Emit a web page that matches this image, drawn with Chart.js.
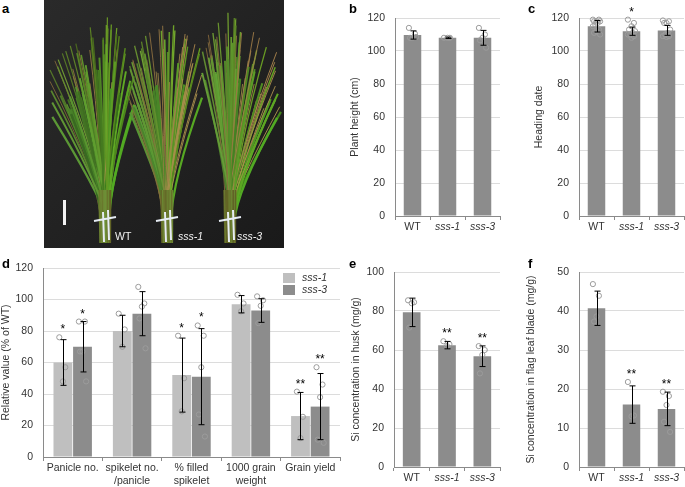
<!DOCTYPE html>
<html>
<head>
<meta charset="utf-8">
<script src="https://cdn.jsdelivr.net/npm/chart.js@4.4.1/dist/chart.umd.min.js"></script>
<style>
body { margin: 0; width: 685px; height: 487px; position: relative; background: #fff; overflow: hidden; font-family: "Liberation Sans", Arial, sans-serif; }
canvas { position: absolute; }
.tag { position: absolute; font-weight: bold; font-size: 13px; color: #000; line-height: 13px; }
</style>
</head>
<body>
<canvas id="photo" width="240" height="248" style="left:44px;top:0"></canvas>
<canvas id="chartB" width="165" height="240" style="left:340px;top:0"></canvas>
<canvas id="chartC" width="160" height="240" style="left:525px;top:0"></canvas>
<canvas id="chartD" width="345" height="237" style="left:0;top:250px"></canvas>
<canvas id="chartE" width="165" height="232" style="left:340px;top:255px"></canvas>
<canvas id="chartF" width="170" height="232" style="left:515px;top:255px"></canvas>
<div class="tag" style="left:2px;top:2px">a</div>
<div class="tag" style="left:349px;top:2px">b</div>
<div class="tag" style="left:528px;top:2px">c</div>
<div class="tag" style="left:2px;top:257px">d</div>
<div class="tag" style="left:349px;top:257px">e</div>
<div class="tag" style="left:528px;top:257px">f</div>
<script>
// genotypes for panels b, c, e, f
const genotypes = ["WT", "sss-1", "sss-3"];

// b: plant height (cm)
const heightMean = [109.7, 108, 108];
const heightSd = [2.5, 0.4, 4.5];
const heightDots = [[114, 110.5, 108, 108, 108.5], [108, 108, 108], [114, 110, 108, 106.5, 102]];

// c: heading date
const headingMean = [115, 112, 112.5];
const headingSd = [3.5, 2.5, 3];
const headingDots = [
    [119, 119, 118, 118, 118, 117, 116, 115, 113, 112, 111, 110],
    [119, 117, 115, 113, 112, 111, 110, 110, 109, 108],
    [118.5, 118, 117, 117, 113, 111, 110, 109, 109, 108.5]
];
const headingStars = ["", "*", ""];

// d: relative yield components (% of WT)
const traits = [["Panicle no."], ["spikelet no.", "/panicle"], ["% filled", "spikelet"], ["1000 grain", "weight"], ["Grain yield"]];
const sss1Mean = [60, 80, 52, 97, 26];
const sss1Sd = [14.5, 10, 23.5, 5.5, 15];
const sss1Dots = [[76, 57, 48], [91, 81, 70], [77, 50, 29], [103, 97.5, 92.5], [41.5, 25.5, 12]];
const sss3Mean = [70, 91, 51, 93, 32];
const sss3Sd = [16, 14, 30.5, 7.5, 21];
const sss3Dots = [[86, 86, 67, 67, 48], [108, 97.5, 95.5, 88, 69], [83.5, 77, 57, 27, 13], [102, 99.5, 96, 85], [57, 46, 38, 11, 9]];
const traitStars = ["*", "", "*", "", "**"];

// e: Si in husk (mg/g)
const huskMean = [79.3, 62.5, 56.8];
const huskSd = [7.3, 1.9, 5.3];
const huskDots = [[85.5, 84.5, 84, 71.5], [64.5, 63, 62], [62, 60, 57.5, 48]];

// f: Si in flag leaf blade (mg/g)
const leafMean = [40.7, 16, 14.9];
const leafSd = [4.4, 4.8, 4.3];
const leafDots = [[46.9, 43.9, 38.6, 37.3], [21.8, 13.2, 13], [19.3, 18.2, 15.9, 11.6, 9]];
const siStars = ["", "**", "**"];

const family = "Liberation Sans";
const textColor = "#333";
const axisGray = "#8a8a8a";
const darkBar = "#8c8c8c";
const lightBar = "#bfbfbf";

const jitter = k => ((k * 5) % 7 - 3) * 1.2;

const errorDots = {
    id: "errorDots",
    afterDatasetsDraw(chart, args, opts) {
        const ctx = chart.ctx;
        const y = chart.scales.y;
        ctx.save();
        chart.data.datasets.forEach((ds, i) => {
            const meta = chart.getDatasetMeta(i);
            meta.data.forEach((bar, j) => {
                const x = bar.x;
                const v = ds.data[j];
                ctx.strokeStyle = "#9c9c9c";
                ctx.lineWidth = 1;
                ds.dots[j].forEach((d, k) => {
                    ctx.beginPath();
                    ctx.arc(x + jitter(k), y.getPixelForValue(d), 2.6, 0, Math.PI * 2);
                    ctx.stroke();
                });
                const top = y.getPixelForValue(v + ds.sd[j]);
                const bot = y.getPixelForValue(v - ds.sd[j]);
                const cx = Math.round(x) + 0.5;
                ctx.strokeStyle = "#000";
                ctx.beginPath();
                ctx.moveTo(cx, top); ctx.lineTo(cx, bot);
                ctx.moveTo(cx - 3, top); ctx.lineTo(cx + 3, top);
                ctx.moveTo(cx - 3, bot); ctx.lineTo(cx + 3, bot);
                ctx.stroke();
                if (ds.stars && ds.stars[j]) {
                    const hi = y.getPixelForValue(Math.max(v + ds.sd[j], ...ds.dots[j]));
                    ctx.fillStyle = "#000";
                    ctx.font = "12px " + family;
                    ctx.textAlign = "center";
                    ctx.textBaseline = "alphabetic";
                    ctx.fillText(ds.stars[j], x, hi - 4);
                }
            });
        });
        if (opts.legend) {
            const area = chart.chartArea;
            chart.data.datasets.forEach((ds, i) => {
                const ty = area.top + 5 + i * 12;
                ctx.fillStyle = ds.backgroundColor;
                ctx.fillRect(area.right - 57, ty, 12, 10);
                ctx.fillStyle = textColor;
                ctx.font = "italic 10.5px " + family;
                ctx.textAlign = "left";
                ctx.textBaseline = "middle";
                ctx.fillText(ds.label, area.right - 38, ty + 5);
            });
        }
        ctx.restore();
    }
};

function italicFor(label) {
    return (typeof label === "string" && label.startsWith("sss")) ? "italic" : "normal";
}

function barChart(id, o) {
    return new Chart(document.getElementById(id), {
        type: "bar",
        data: { labels: o.labels, datasets: o.datasets },
        options: {
            responsive: false,
            animation: false,
            layout: { padding: { top: o.top, right: o.right, left: 0, bottom: 0 } },
            plugins: {
                legend: { display: false },
                tooltip: { enabled: false },
                errorDots: { legend: o.legend || false }
            },
            scales: {
                x: {
                    grid: { display: true, drawOnChartArea: false, offset: true, tickLength: 4, color: axisGray },
                    border: { color: axisGray },
                    ticks: {
                        color: textColor, padding: 1, maxRotation: 0, autoSkip: false,
                        font: c => ({ family: family, size: 10.5, style: italicFor(o.labels[c.index]) })
                    },
                    afterFit: s => { s.height = o.xh; }
                },
                y: {
                    min: 0, max: o.max,
                    ticks: { stepSize: o.step, color: textColor, padding: 10, font: { family: family, size: 10.5 } },
                    grid: { color: "#dcdcdc", drawTicks: false },
                    border: { color: axisGray },
                    title: { display: true, text: o.title, color: textColor, font: { family: family, size: 10.5 }, padding: { top: o.tpad, bottom: 0 } },
                    afterFit: s => { s.width = o.yw; }
                }
            }
        },
        plugins: [errorDots]
    });
}

function single(label, mean, sd, dots, stars) {
    return [{ label: label, data: mean, sd: sd, dots: dots, stars: stars, backgroundColor: darkBar, borderWidth: 0, barPercentage: 1, categoryPercentage: 0.5 }];
}

barChart("chartB", { labels: genotypes, datasets: single("Plant height", heightMean, heightSd, heightDots, null),
    max: 120, step: 20, title: "Plant height (cm)", top: 18, right: 5, yw: 55, xh: 24, tpad: 9 });
barChart("chartC", { labels: genotypes, datasets: single("Heading date", headingMean, headingSd, headingDots, headingStars),
    max: 120, step: 20, title: "Heading date", top: 18, right: 1, yw: 54, xh: 24, tpad: 8 });
barChart("chartE", { labels: genotypes, datasets: single("Si husk", huskMean, huskSd, huskDots, siStars),
    max: 100, step: 20, title: "Si concentration in husk (mg/g)", top: 17, right: 5, yw: 54, xh: 20, tpad: 10 });
barChart("chartF", { labels: genotypes, datasets: single("Si leaf", leafMean, leafSd, leafDots, siStars),
    max: 50, step: 10, title: "Si concentration in flag leaf blade (mg/g)", top: 17, right: 1, yw: 64, xh: 20, tpad: 10 });
barChart("chartD", {
    labels: traits,
    datasets: [
        { label: "sss-1", data: sss1Mean, sd: sss1Sd, dots: sss1Dots, stars: traitStars, backgroundColor: lightBar, borderWidth: 0, barPercentage: 0.96, categoryPercentage: 0.66 },
        { label: "sss-3", data: sss3Mean, sd: sss3Sd, dots: sss3Dots, stars: traitStars, backgroundColor: darkBar, borderWidth: 0, barPercentage: 0.96, categoryPercentage: 0.66 }
    ],
    max: 120, step: 20, title: "Relative value (% of WT)", top: 18, right: 5, yw: 43, xh: 30, tpad: 0, legend: true
});

// panel a: stylised stand-in for the photo of the three plants
function drawPhoto() {
    const g = document.getElementById("photo").getContext("2d");
    const grad = g.createLinearGradient(0, 0, 240, 248);
    grad.addColorStop(0, "#2a2a2a");
    grad.addColorStop(1, "#1a1a1a");
    g.fillStyle = grad;
    g.fillRect(0, 0, 240, 248);
    const h = n => { const s = Math.sin(n * 78.233) * 43758.5453; return s - Math.floor(s); };
    const plants = [
        { cx: 61, left: 6, right: 92, top: 14, brown: 0.12 },
        { cx: 123, left: 84, right: 160, top: 12, brown: 0.4 },
        { cx: 186, left: 158, right: 238, top: 8, brown: 0.35 }
    ];
    plants.forEach((p, pi) => {
        for (let i = 0; i < 80; i++) {
            const r1 = h(pi * 100 + i), r2 = h(pi * 100 + i + 0.37), r3 = h(pi * 100 + i + 0.71);
            const tx = p.left + (p.right - p.left) * r1;
            const ty = p.top + Math.abs(tx - p.cx) * 0.9 + r2 * 70;
            const bx = p.cx + (r3 - 0.5) * 10;
            const brown = r3 < p.brown;
            g.strokeStyle = brown ? "hsl(" + (36 + r2 * 12) + ",38%," + (36 + r1 * 14) + "%)"
                : "hsl(" + (84 + r2 * 16) + "," + (48 + r1 * 18) + "%," + (24 + r3 * 18) + "%)";
            g.lineWidth = brown ? 0.9 : 1.2 + r2 * 1.3;
            g.beginPath();
            g.moveTo(bx, 222);
            g.quadraticCurveTo(p.cx + (tx - p.cx) * 0.15, (ty + 222) / 2 + 20, tx, ty);
            g.stroke();
        }
        for (let i = 0; i < 14; i++) {
            const r = h(pi * 50 + i + 0.5);
            g.strokeStyle = "hsl(" + (60 + r * 25) + ",45%," + (26 + r * 14) + "%)";
            g.lineWidth = 1.4;
            g.beginPath();
            g.moveTo(p.cx - 6 + i * 0.9, 190);
            g.lineTo(p.cx - 5 + i * 0.8, 243);
            g.stroke();
        }
        g.strokeStyle = "#e6ecf3";
        g.lineWidth = 2;
        g.beginPath();
        g.moveTo(p.cx - 11, 221); g.lineTo(p.cx + 11, 217);
        g.moveTo(p.cx - 2, 212); g.lineTo(p.cx - 1, 242);
        g.moveTo(p.cx + 3, 210); g.lineTo(p.cx + 4, 240);
        g.stroke();
    });
    g.fillStyle = "#f2f2f2";
    g.fillRect(19, 200, 3, 25);
    g.font = "10.5px " + family;
    g.fillText("WT", 71, 240);
    g.font = "italic 10.5px " + family;
    g.fillText("sss-1", 134, 240);
    g.fillText("sss-3", 193, 240);
}
drawPhoto();
</script>
</body>
</html>
